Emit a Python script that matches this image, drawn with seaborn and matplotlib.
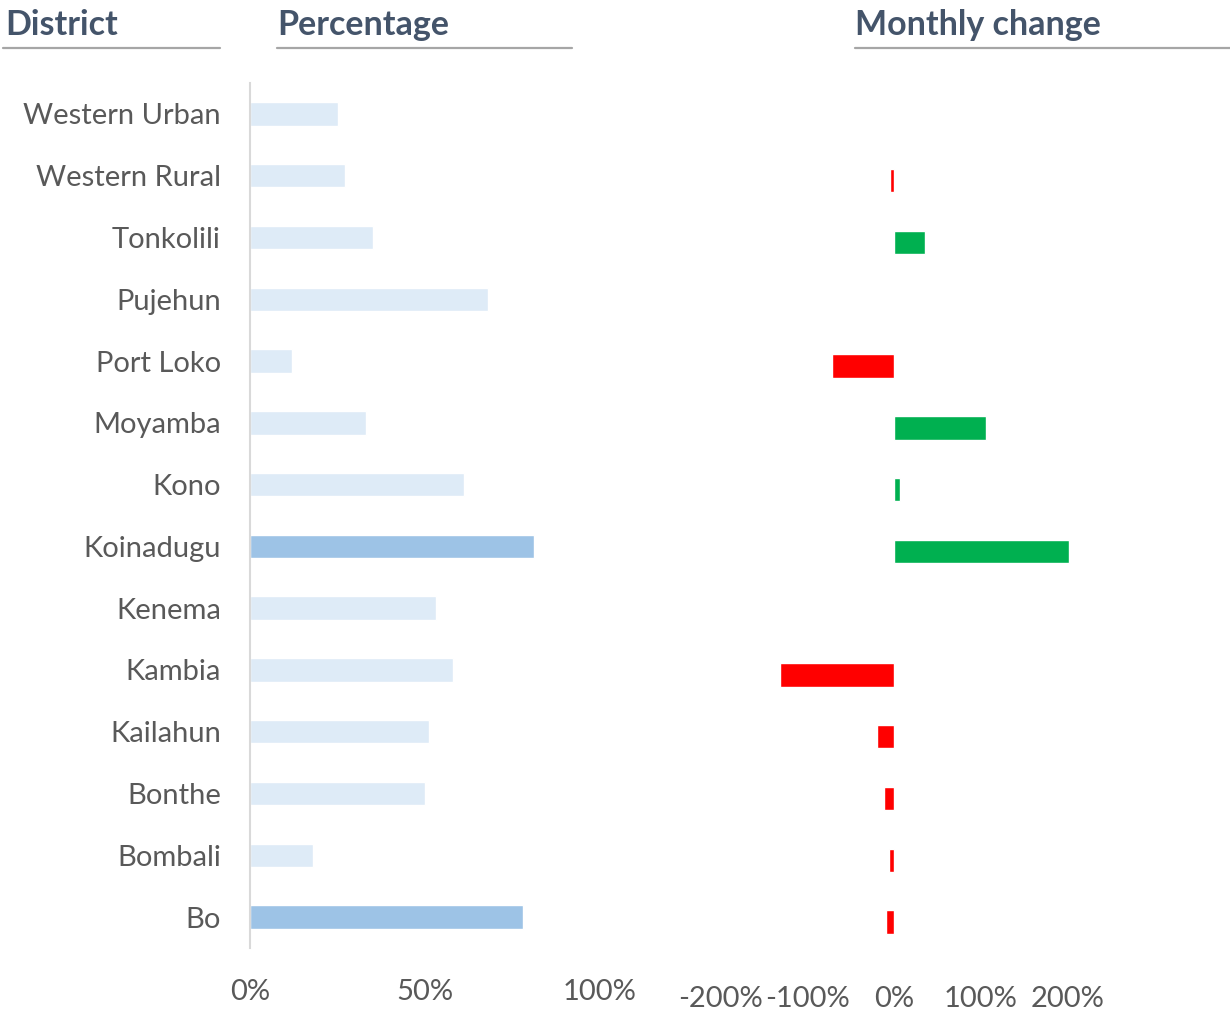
import matplotlib
matplotlib.use("Agg")
import matplotlib.pyplot as plt
from matplotlib.lines import Line2D
from matplotlib.ticker import FuncFormatter
import seaborn as sns
import pandas as pd
import numpy as np

# ---- data ----
districts = ["Western Urban", "Western Rural", "Tonkolili", "Pujehun", "Port Loko",
             "Moyamba", "Kono", "Koinadugu", "Kenema", "Kambia", "Kailahun",
             "Bonthe", "Bombali", "Bo"]
percentage = [25, 27, 35, 68, 12, 33, 61, 81, 53, 58, 51, 50, 18, 78]
monthly_change = [np.nan, -5, 36, np.nan, -71, 106, 7, 201, np.nan, -131, -20, -11, -6, -9]
highlighted = ["Koinadugu", "Bo"]

pct_ticks = [0, 50, 100]
chg_ticks = [-200, -100, 0, 100, 200]

# ---- style ----
sns.set_style("white")
plt.rcParams['font.family'] = ['Lato', 'DejaVu Sans']

HEAD = "#44546A"
TXT = "#595959"
LINE = "#A6A6A6"

df = pd.DataFrame({"District": districts, "Pct": percentage, "Change": monthly_change})
df["Top"] = np.where(df["District"].isin(highlighted), "hi", "lo")
df["Sign"] = np.where(df["Change"] >= 0, "pos", "neg")

fig = plt.figure(figsize=(12.3, 10.15), dpi=100)
W, H = 1230, 1015

def box(x0, x1, y0, y1):
    return [x0 / W, 1 - y1 / H, (x1 - x0) / W, (y1 - y0) / H]

# left panel: percentage
ax1 = fig.add_axes(box(250, 600, 83, 948))
sns.barplot(data=df, x="Pct", y="District", hue="Top", order=districts,
            palette={"hi": "#9DC3E6", "lo": "#DEEBF7"}, dodge=False,
            width=0.38, legend=False, ax=ax1, saturation=1)
ax1.set_xlim(0, 100)
ax1.set_xticks(pct_ticks)
ax1.xaxis.set_major_formatter(FuncFormatter(lambda v, p: f"{v:.0f}%"))
ax1.set_xlabel("")
ax1.set_ylabel("")
for s in ["top", "right", "bottom"]:
    ax1.spines[s].set_visible(False)
ax1.spines["left"].set_color("#D9D9D9")
ax1.spines["left"].set_linewidth(1.5)
ax1.tick_params(axis="y", length=0, pad=21, labelsize=21, labelcolor=TXT)
ax1.tick_params(axis="x", length=0, pad=22, labelsize=21, labelcolor=TXT)

# right panel: monthly change (sits a few pixels lower than the left one)
ax2 = fig.add_axes(box(716, 1072, 88, 953))
sns.barplot(data=df, x="Change", y="District", hue="Sign", order=districts,
            palette={"pos": "#00B050", "neg": "#FF0000"}, dodge=False,
            width=0.38, legend=False, ax=ax2, saturation=1)
ax2.set_xlim(-205, 205)
ax2.set_xticks(chg_ticks)
ax2.xaxis.set_major_formatter(FuncFormatter(lambda v, p: f"{v:.0f}%"))
ax2.set_xlabel("")
ax2.set_ylabel("")
ax2.set_yticks([])
for s in ax2.spines.values():
    s.set_visible(False)
ax2.tick_params(axis="x", length=0, pad=24, labelsize=21, labelcolor=TXT)

# headers with underlines
headers = [("District", 5, 3, 220), ("Percentage", 277, 277, 572), ("Monthly change", 855, 855, 1230)]
for label, tx, lx0, lx1 in headers:
    fig.text(tx / W, 1 - 35 / H, label, fontsize=24.5, fontweight="bold",
             color=HEAD, va="baseline", ha="left")
    fig.add_artist(Line2D([lx0 / W, lx1 / W], [1 - 48 / H, 1 - 48 / H],
                          color=LINE, linewidth=1.6))

fig.savefig("out.png", dpi=100)
